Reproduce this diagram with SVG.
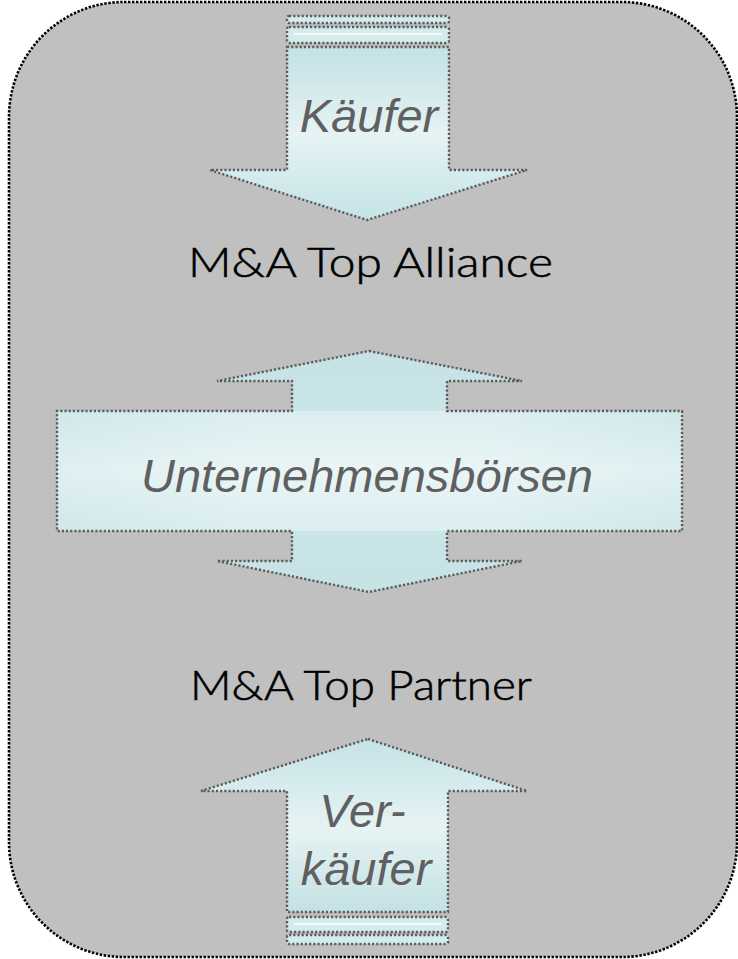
<svg xmlns="http://www.w3.org/2000/svg" width="738" height="959" viewBox="0 0 738 959">
  <defs>
    <style>
      .frame { fill: #c0c0c0; stroke: #000; stroke-width: 2.6; stroke-dasharray: 2.4 1.6; }
      .arrow { stroke: #5c5c5c; stroke-width: 2.4; stroke-dasharray: 2.2 2; }
      .bar { fill: #d4ecee; stroke: #5c5c5c; stroke-width: 2.4; stroke-dasharray: 2.2 2; }
      .shine { stroke: #f2fafa; stroke-width: 2; }
      .label { font-family: "Liberation Sans", Arial, sans-serif; font-style: italic; fill: #606060; }
      .title { font-family: Lato, "DejaVu Sans", sans-serif; font-weight: 300; fill: #000; stroke: #000; stroke-width: 0.6; font-size: 42px; }
    </style>
    <linearGradient id="gDown" gradientUnits="userSpaceOnUse" x1="0" y1="47" x2="0" y2="220">
      <stop offset="0" stop-color="#c3e1e4"/>
      <stop offset="0.5" stop-color="#e6f3f4"/>
      <stop offset="0.72" stop-color="#d6ecee"/>
      <stop offset="1" stop-color="#c6e3e6"/>
    </linearGradient>
    <linearGradient id="gUp" gradientUnits="userSpaceOnUse" x1="0" y1="739" x2="0" y2="912">
      <stop offset="0" stop-color="#c6e3e6"/>
      <stop offset="0.3" stop-color="#d8edef"/>
      <stop offset="0.52" stop-color="#e6f3f4"/>
      <stop offset="1" stop-color="#c3e1e4"/>
    </linearGradient>
    <linearGradient id="gMidV" gradientUnits="userSpaceOnUse" x1="0" y1="351" x2="0" y2="592">
      <stop offset="0" stop-color="#c5e2e5"/>
      <stop offset="0.5" stop-color="#d0e8ea"/>
      <stop offset="1" stop-color="#c5e2e5"/>
    </linearGradient>
    <linearGradient id="gBandH" x1="0" y1="0" x2="1" y2="0">
      <stop offset="0" stop-color="#c6e3e6"/>
      <stop offset="0.3" stop-color="#e4f2f3"/>
      <stop offset="0.7" stop-color="#e4f2f3"/>
      <stop offset="1" stop-color="#c6e3e6"/>
    </linearGradient>
    <linearGradient id="gBandV" x1="0" y1="0" x2="0" y2="1">
      <stop offset="0" stop-color="#d6ecee" stop-opacity="0.6"/>
      <stop offset="0.5" stop-color="#ecf6f7" stop-opacity="0.7"/>
      <stop offset="1" stop-color="#d6ecee" stop-opacity="0.6"/>
    </linearGradient>
  </defs>

  <!-- rounded grey panel -->
  <rect class="frame" x="9" y="2" width="728" height="955" rx="115" ry="115"/>

  <!-- buyer arrow pointing down -->
  <g id="kaeufer">
    <rect class="bar" x="287" y="16" width="162" height="7" rx="2"/>
    <rect class="bar" x="287" y="27" width="162" height="16" rx="2"/>
    <line class="shine" x1="294" y1="34" x2="442" y2="34"/>
    <polygon class="arrow" fill="url(#gDown)" points="287,47 449,47 449,170 527,170 367,220 210,170 287,170"/>
    <text class="label" x="369" y="132" font-size="47" text-anchor="middle">Käufer</text>
  </g>

  <g id="alliance">
    <text class="title" x="188" y="277" textLength="365" lengthAdjust="spacingAndGlyphs">M&amp;A Top Alliance</text>
  </g>

  <!-- exchange platforms: two-way arrow with wide band -->
  <g id="boersen">
    <path d="M369,351 L522,381 L447,381 L447,411 L682,411 L682,531 L447,531 L447,561 L522,561 L369,592 L217,561 L292,561 L292,531 L57,531 L57,411 L292,411 L292,381 L217,381 Z" fill="url(#gMidV)"/>
    <rect x="57" y="411" width="625" height="120" fill="url(#gBandH)"/>
    <rect x="57" y="411" width="625" height="120" fill="url(#gBandV)"/>
    <path class="arrow" fill="none" d="M369,351 L522,381 L447,381 L447,411 L682,411 L682,531 L447,531 L447,561 L522,561 L369,592 L217,561 L292,561 L292,531 L57,531 L57,411 L292,411 L292,381 L217,381 Z"/>
    <text class="label" x="367" y="492" font-size="47" text-anchor="middle">Unternehmensbörsen</text>
  </g>

  <g id="partner">
    <text class="title" x="190" y="700" textLength="342" lengthAdjust="spacingAndGlyphs">M&amp;A Top Partner</text>
  </g>

  <!-- seller arrow pointing up -->
  <g id="verkaeufer">
    <polygon class="arrow" fill="url(#gUp)" points="368,739 527,791 448,791 448,912 287,912 287,791 201,791"/>
    <rect class="bar" x="287" y="917" width="161" height="15" rx="2"/>
    <line class="shine" x1="294" y1="924" x2="441" y2="924"/>
    <rect class="bar" x="287" y="935" width="161" height="9" rx="2"/>
    <text class="label" font-size="47" text-anchor="middle">
      <tspan x="369" y="827">Ver-</tspan>
      <tspan x="366" y="885">käufer</tspan>
    </text>
  </g>
</svg>
